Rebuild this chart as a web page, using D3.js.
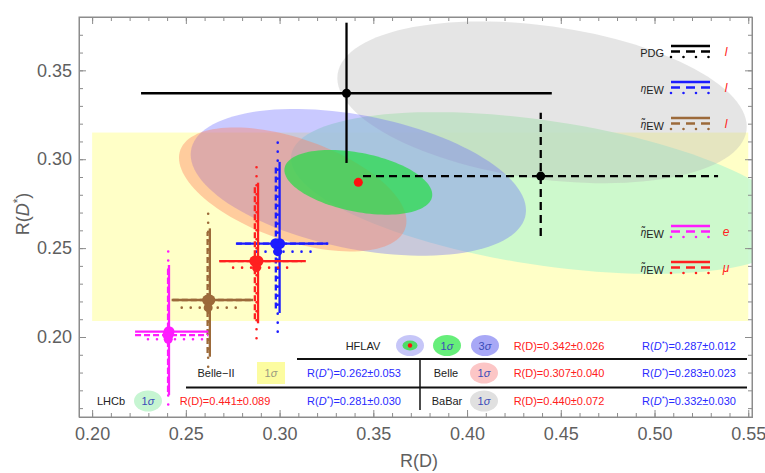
<!DOCTYPE html>
<html>
<head>
<meta charset="utf-8">
<script src="https://cdn.jsdelivr.net/npm/d3@7"></script>
<style>
body { margin: 0; background: #fff; }
svg { font-family: "Liberation Sans", Arial, sans-serif; }
</style>
</head>
<body>
<div class="graph"></div>
<script>
// measurements (R(D), R(D*), errors, correlation)
var measNames = ["LHCb", "BaBar", "Belle", "HFLAV"];
var measRD = [0.441, 0.440, 0.307, 0.342];
var measRDerr = [0.089, 0.072, 0.040, 0.026];
var measRDs = [0.281, 0.332, 0.283, 0.287];
var measRDserr = [0.030, 0.030, 0.023, 0.012];
var measRho = [-0.43, -0.30, -0.51, -0.38];
var belle2RDs = 0.262, belle2RDsErr = 0.053;
var belle2RDrange = [0.20, 0.55];

// crosses: group, style, cx, cy, xlo, xhi, ylo, yhi
var crossGroups = ["PDG", "etaEW", "etaEWl", "etaEWe", "etaEWmu"];
var crossColors = ["#000000", "#1c1cff", "#9c6a3a", "#ff1cff", "#ff2020"];
var crosses = [
	[0, "solid", 0.3357, 0.3371, 0.2261, 0.4452, 0.2979, 0.3768],
	[0, "dashed", 0.4393, 0.2905, 0.3445, 0.5339, 0.2568, 0.3262],
	[1, "solid", 0.3000, 0.2525, 0.2770, 0.3260, 0.2135, 0.2985],
	[1, "dashed", 0.2980, 0.2525, 0.2767, 0.3258, 0.2160, 0.2960],
	[1, "dotted", 0.2990, 0.2480, 0.2877, 0.3170, 0.2030, 0.3104],
	[2, "solid", 0.2628, 0.2208, 0.2424, 0.2859, 0.1889, 0.2611],
	[2, "dashed", 0.2616, 0.2208, 0.2430, 0.2850, 0.1910, 0.2590],
	[2, "dotted", 0.2619, 0.2165, 0.2478, 0.2779, 0.1833, 0.2714],
	[3, "solid", 0.2410, 0.2030, 0.2229, 0.2620, 0.1674, 0.2405],
	[3, "dashed", 0.2405, 0.2011, 0.2229, 0.2620, 0.1690, 0.2380],
	[3, "dotted", 0.2406, 0.1987, 0.2298, 0.2591, 0.1620, 0.2502],
	[4, "solid", 0.2885, 0.2427, 0.2678, 0.3140, 0.2077, 0.2868],
	[4, "dashed", 0.2868, 0.2427, 0.2680, 0.3120, 0.2100, 0.2850],
	[4, "dotted", 0.2877, 0.2390, 0.2752, 0.3055, 0.1993, 0.2977]
];

// legend
var legendNames = ["PDG", "η", "η̃", "η̃", "η̃"];
var legendLetters = ["l", "l", "l", "e", "μ"];
var legendRows = [0, 1, 2, 5, 6];

var xTicks = [0.20, 0.25, 0.30, 0.35, 0.40, 0.45, 0.50, 0.55];
var yTicks = [0.20, 0.25, 0.30, 0.35];

const WIDTH = 765, HEIGHT = 473;
const MARGIN = {top: 17, right: 13, bottom: 56, left: 79};
const INNERWIDTH = WIDTH - MARGIN.left - MARGIN.right;
const INNERHEIGHT = HEIGHT - MARGIN.top - MARGIN.bottom;

var xScale = d3.scaleLinear().domain([0.193, 0.552]).range([0, INNERWIDTH]);
var yScale = d3.scaleLinear().domain([0.155, 0.38]).range([INNERHEIGHT, 0]);

var root = d3.select(".graph").append("svg")
	.attr("width", WIDTH)
	.attr("height", HEIGHT);

var svg = root.append("g")
	.attr("transform", "translate(" + MARGIN.left + "," + MARGIN.top + ")");

svg.append("clipPath").attr("id", "plotclip")
	.append("rect").attr("width", INNERWIDTH).attr("height", INNERHEIGHT);

var plot = svg.append("g").attr("clip-path", "url(#plotclip)");

// Belle-II band
plot.append("rect")
	.attr("x", xScale(belle2RDrange[0]))
	.attr("width", xScale(belle2RDrange[1]) - xScale(belle2RDrange[0]))
	.attr("y", yScale(belle2RDs + belle2RDsErr))
	.attr("height", yScale(belle2RDs - belle2RDsErr) - yScale(belle2RDs + belle2RDsErr))
	.attr("fill", "#ffff00").attr("opacity", 0.22);

var K1 = Math.sqrt(2.30), K3 = Math.sqrt(11.83);
var ellipseLine = d3.line();
var ellipsePath = function(i, k) {
	var pts = d3.range(0, 361, 3).map(function(t) {
		var a = t * Math.PI / 180, r = measRho[i];
		return [xScale(measRD[i] + k * measRDerr[i] * Math.cos(a)),
			yScale(measRDs[i] + k * measRDserr[i] * (r * Math.cos(a) + Math.sqrt(1 - r * r) * Math.sin(a)))];
	});
	return ellipseLine(pts) + "Z";
};

var ellipses = [
	{i: 0, k: K1, fill: "#c4f8cc", op: 0.85},
	{i: 1, k: K1, fill: "#b4b4b4", op: 0.35},
	{i: 3, k: K3, fill: "#6464ff", op: 0.35},
	{i: 2, k: K1, fill: "#ff8060", op: 0.4},
	{i: 3, k: K1, fill: "#22dd44", op: 0.7}
];
plot.selectAll(".ell").data(ellipses).enter().append("path")
	.attr("class", "ell")
	.attr("d", function(d) { return ellipsePath(d.i, d.k); })
	.attr("fill", function(d) { return d.fill; })
	.attr("opacity", function(d) { return d.op; });

// HFLAV central value
plot.append("circle")
	.attr("cx", xScale(measRD[3])).attr("cy", yScale(measRDs[3]))
	.attr("r", 4.5).attr("fill", "#ff1010");

// crosses
var dashFor = function(d) {
	if (d[1] == "dashed") return d[0] == 0 ? "8,5" : "6,3";
	if (d[1] == "dotted") return "0,9";
	return null;
};
var cg = plot.selectAll(".cross").data(crosses).enter().append("g").attr("class", "cross");
cg.append("line")
	.attr("x1", function(d) { return xScale(d[4]); })
	.attr("x2", function(d) { return xScale(d[5]); })
	.attr("y1", function(d) { return yScale(d[3]); })
	.attr("y2", function(d) { return yScale(d[3]); });
cg.append("line")
	.attr("x1", function(d) { return xScale(d[2]); })
	.attr("x2", function(d) { return xScale(d[2]); })
	.attr("y1", function(d) { return yScale(d[6]); })
	.attr("y2", function(d) { return yScale(d[7]); });
cg.selectAll("line")
	.attr("stroke", function(d) { return crossColors[d[0]]; })
	.attr("stroke-width", function(d) { return d[1] == "dotted" ? 2.6 : 2.3; })
	.attr("stroke-linecap", function(d) { return d[1] == "dotted" ? "round" : "butt"; })
	.attr("stroke-dasharray", dashFor);
cg.append("circle")
	.attr("cx", function(d) { return xScale(d[2]); })
	.attr("cy", function(d) { return yScale(d[3]); })
	.attr("r", function(d) { return d[0] == 0 ? 4.5 : (d[1] == "dotted" ? 4.5 : 5.5); })
	.attr("fill", function(d) { return crossColors[d[0]]; });

// frame + axes
var axisColor = "#8c8c8c";
var minorX = d3.range(0.20, 0.5505, 0.01), minorY = d3.range(0.16, 0.3805, 0.01);
var addAxis = function(axis, tr) {
	var g = svg.append("g").attr("transform", tr).call(axis);
	g.select(".domain").attr("stroke", axisColor);
	g.selectAll(".tick line").attr("stroke", axisColor);
	g.selectAll("text").attr("fill", "#5f5f5f").attr("font-size", "18px")
		.attr("font-family", "Liberation Sans, Arial, sans-serif");
	return g;
};
var fmt = d3.format(".2f");
addAxis(d3.axisBottom(xScale).tickValues(minorX).tickSize(-4).tickFormat(""), "translate(0," + INNERHEIGHT + ")");
addAxis(d3.axisBottom(xScale).tickValues(xTicks).tickSizeInner(-7).tickSizeOuter(0).tickPadding(10).tickFormat(fmt), "translate(0," + INNERHEIGHT + ")");
addAxis(d3.axisTop(xScale).tickValues(minorX).tickSize(-4).tickFormat(""), "translate(0,0)");
addAxis(d3.axisTop(xScale).tickValues(xTicks).tickSizeInner(-7).tickSizeOuter(0).tickFormat(""), "translate(0,0)");
addAxis(d3.axisLeft(yScale).tickValues(minorY).tickSize(-4).tickFormat(""), "translate(0,0)");
addAxis(d3.axisLeft(yScale).tickValues(yTicks).tickSizeInner(-7).tickSizeOuter(0).tickPadding(7).tickFormat(fmt), "translate(0,0)");
addAxis(d3.axisRight(yScale).tickValues(minorY).tickSize(-4).tickFormat(""), "translate(" + INNERWIDTH + ",0)");
addAxis(d3.axisRight(yScale).tickValues(yTicks).tickSizeInner(-7).tickSizeOuter(0).tickFormat(""), "translate(" + INNERWIDTH + ",0)");
svg.append("rect").attr("width", INNERWIDTH).attr("height", INNERHEIGHT)
	.attr("fill", "none").attr("stroke", axisColor);

// axis titles
root.append("text").attr("x", 419).attr("y", 467).attr("text-anchor", "middle")
	.attr("font-size", "18px").attr("fill", "#5f5f5f").text("R(D)");
var yl = root.append("text").attr("transform", "translate(29,214) rotate(-90)")
	.attr("text-anchor", "middle").attr("font-size", "18px").attr("fill", "#5f5f5f");
yl.append("tspan").text("R(");
yl.append("tspan").attr("font-style", "italic").text("D");
yl.append("tspan").attr("font-size", "12px").attr("dy", -7).text("*");
yl.append("tspan").attr("dy", 7).text(")");

// legend (top right)
var lg = root.selectAll(".leg").data(legendNames).enter().append("g").attr("class", "leg")
	.attr("transform", function(d, i) { return "translate(0," + (57 + 36 * legendRows[i]) + ")"; });
lg.each(function(d, i) {
	var g = d3.select(this);
	var t = g.append("text").attr("x", 664).attr("y", 0).attr("text-anchor", "end")
		.attr("font-size", "11px").attr("fill", "#222");
	if (i == 0) t.text(d);
	else {
		t.append("tspan").attr("font-style", "italic").attr("font-size", "10px").attr("dy", -1).text(d);
		t.append("tspan").attr("dy", 2).text("EW");
	}
	var styles = [[-11, null, 2.6, "butt"], [-5.5, "9,6", 2.6, "butt"], [0, "0,12.5", 2.6, "round"]];
	styles.forEach(function(s) {
		g.append("line").attr("x1", 671).attr("x2", 710).attr("y1", s[0]).attr("y2", s[0])
			.attr("stroke", crossColors[i]).attr("stroke-width", s[2])
			.attr("stroke-dasharray", s[1]).attr("stroke-linecap", s[3]);
	});
	g.append("text").attr("x", 726).attr("y", -1).attr("text-anchor", "middle")
		.attr("font-size", "12px").attr("font-style", "italic").attr("fill", "#ff2020")
		.text(legendLetters[i]);
});

// table at the bottom
var tbl = root.append("g").attr("font-size", "11px");
var rdText = function(x, yy, v, e) {
	tbl.append("text").attr("x", x).attr("y", yy).attr("text-anchor", "middle")
		.attr("fill", "#ff2020").text("R(D)=" + v.toFixed(3) + "±" + e.toFixed(3));
};
var rdsText = function(x, yy, v, e) {
	var t = tbl.append("text").attr("x", x).attr("y", yy).attr("text-anchor", "middle").attr("fill", "#2a2aff");
	t.append("tspan").text("R(");
	t.append("tspan").attr("font-style", "italic").text("D");
	t.append("tspan").attr("font-size", "8px").attr("dy", -4).text("*");
	t.append("tspan").attr("dy", 4).text(")=" + v.toFixed(3) + "±" + e.toFixed(3));
};
var label = function(x, yy, s) {
	tbl.append("text").attr("x", x).attr("y", yy).attr("text-anchor", "middle").attr("fill", "#222").text(s);
};
var sigma = function(x, yy, n, col) {
	var t = tbl.append("text").attr("x", x).attr("y", yy).attr("text-anchor", "middle").attr("fill", col || "#3a4cb8");
	t.append("tspan").text(n);
	t.append("tspan").attr("font-style", "italic").text("σ");
};
var icon = function(x, yc, fill) {
	tbl.append("ellipse").attr("cx", x).attr("cy", yc).attr("rx", 14).attr("ry", 10.5).attr("fill", fill);
};
var r1 = 349.5, r2 = 377, r3 = 405;
// row 1 HFLAV
label(363, r1, measNames[3]);
icon(410, r1 - 4, "#c6c6f8");
tbl.append("ellipse").attr("cx", 410).attr("cy", r1 - 4).attr("rx", 7.5).attr("ry", 5).attr("fill", "#4fdc66");
tbl.append("circle").attr("cx", 410).attr("cy", r1 - 4).attr("r", 2.2).attr("fill", "#ff1010");
icon(447, r1 - 4, "#66ee7a"); sigma(447, r1, "1");
icon(485, r1 - 4, "#a8a8f6"); sigma(485, r1, "3");
rdText(559, r1, measRD[3], measRDerr[3]);
rdsText(689, r1, measRDs[3], measRDserr[3]);
// row 2 Belle-II, Belle
label(216, r2, "Belle−II");
tbl.append("rect").attr("x", 257).attr("y", r2 - 15).attr("width", 28).attr("height", 22).attr("fill", "#fcfca0");
sigma(271, r2, "1", "#9a9a80");
rdsText(354, r2, belle2RDs, belle2RDsErr);
label(446, r2, measNames[2]);
icon(484, r2 - 4, "#fcc6c6"); sigma(484, r2, "1");
rdText(559, r2, measRD[2], measRDerr[2]);
rdsText(689, r2, measRDs[2], measRDserr[2]);
// row 3 LHCb, BaBar
label(111, r3, measNames[0]);
icon(148, r3 - 4, "#c6f5d2"); sigma(148, r3, "1");
rdText(225, r3, measRD[0], measRDerr[0]);
rdsText(354, r3, measRDs[0], measRDserr[0]);
label(447, r3, measNames[1]);
icon(484, r3 - 4, "#e0e0e0"); sigma(484, r3, "1");
rdText(559, r3, measRD[1], measRDerr[1]);
rdsText(689, r3, measRDs[1], measRDserr[1]);
// table rules
tbl.append("line").attr("x1", 297).attr("x2", 747).attr("y1", 359).attr("y2", 359).attr("stroke", "#111").attr("stroke-width", 2);
tbl.append("line").attr("x1", 186).attr("x2", 747).attr("y1", 387.5).attr("y2", 387.5).attr("stroke", "#111").attr("stroke-width", 2);
tbl.append("line").attr("x1", 420).attr("x2", 420).attr("y1", 359).attr("y2", 410).attr("stroke", "#111").attr("stroke-width", 1.5);
</script>
</body>
</html>
